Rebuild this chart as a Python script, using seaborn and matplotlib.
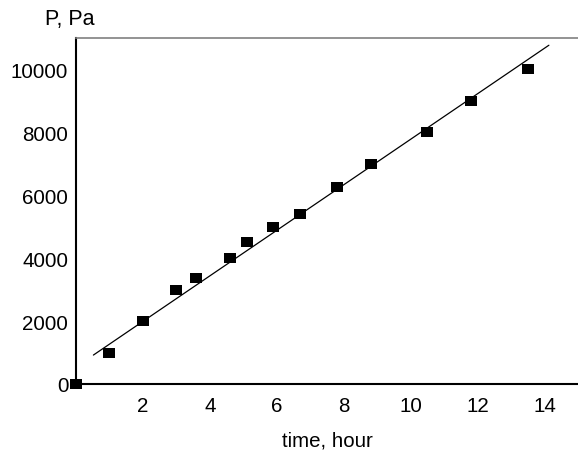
import numpy as np
import pandas as pd
import matplotlib
matplotlib.use("Agg")
import matplotlib.pyplot as plt
import seaborn as sns

# measured points
time_h = [0, 1, 2, 3, 3.6, 4.6, 5.1, 5.9, 6.7, 7.8, 8.8, 10.5, 11.8, 13.5]
pressure = [0, 1000, 2000, 3000, 3370, 4000, 4500, 5000, 5400, 6250, 7000, 8000, 9000, 10000]

# fitted line end points
fit_time = [0.52, 14.13]
fit_pressure = [920, 10770]

x_ticks = [2, 4, 6, 8, 10, 12, 14]
y_ticks = [0, 2000, 4000, 6000, 8000, 10000]

sns.set_style("white")
plt.rcParams['font.family'] = ['Liberation Sans', 'DejaVu Sans']
plt.rcParams['text.color'] = 'black'
plt.rcParams['axes.labelcolor'] = 'black'
plt.rcParams['xtick.color'] = 'black'
plt.rcParams['ytick.color'] = 'black'

df = pd.DataFrame({'time': time_h, 'P': pressure})
fit_df = pd.DataFrame({'time': fit_time, 'P': fit_pressure})

fig = plt.figure(figsize=(5.78, 4.52), dpi=100)
ax = fig.add_axes([76 / 578, 67 / 452, 1 - 76 / 578, (385 - 39) / 452])

# slightly wide square marker like the original
box = [(-1, -0.8), (1, -0.8), (1, 0.8), (-1, 0.8), (-1, -0.8)]

sns.lineplot(data=fit_df, x='time', y='P', color='black', linewidth=0.9, ax=ax)
sns.scatterplot(data=df, x='time', y='P', marker=box, s=75, color='black',
                edgecolor='black', linewidth=0, ax=ax, clip_on=False, zorder=3)

ax.set_xlim(0, 15)
ax.set_ylim(0, 11000)
ax.set_xticks(x_ticks)
ax.set_xticks([1, 3, 5, 7, 9, 11, 13], minor=True)
ax.set_yticks(y_ticks)
ax.set_yticks([1000, 3000, 5000, 7000, 9000], minor=True)
ax.tick_params(axis='both', which='both', direction='out', labelsize=14.8,
               color='black', labelcolor='black')
ax.tick_params(axis='x', which='major', length=3, width=1.2, pad=6)
ax.tick_params(axis='x', which='minor', length=2.5, width=1.2)
ax.tick_params(axis='y', which='major', length=3.5, width=1.2, pad=2)
ax.tick_params(axis='y', which='minor', length=2.5, width=1.2)

for s in ['left', 'bottom']:
    ax.spines[s].set_color('black')
    ax.spines[s].set_linewidth(1.5)
ax.spines['top'].set_color('#808080')
ax.spines['top'].set_linewidth(1.2)
ax.spines['right'].set_visible(False)

ax.set_xlabel('time, hour', fontsize=14.8, labelpad=11, color='black')
ax.set_ylabel('')
fig.text(70 / 578, 1 - 20 / 452, 'P, Pa', fontsize=15.5, ha='center', va='center',
         color='black')

fig.savefig('out.png', dpi=100)
